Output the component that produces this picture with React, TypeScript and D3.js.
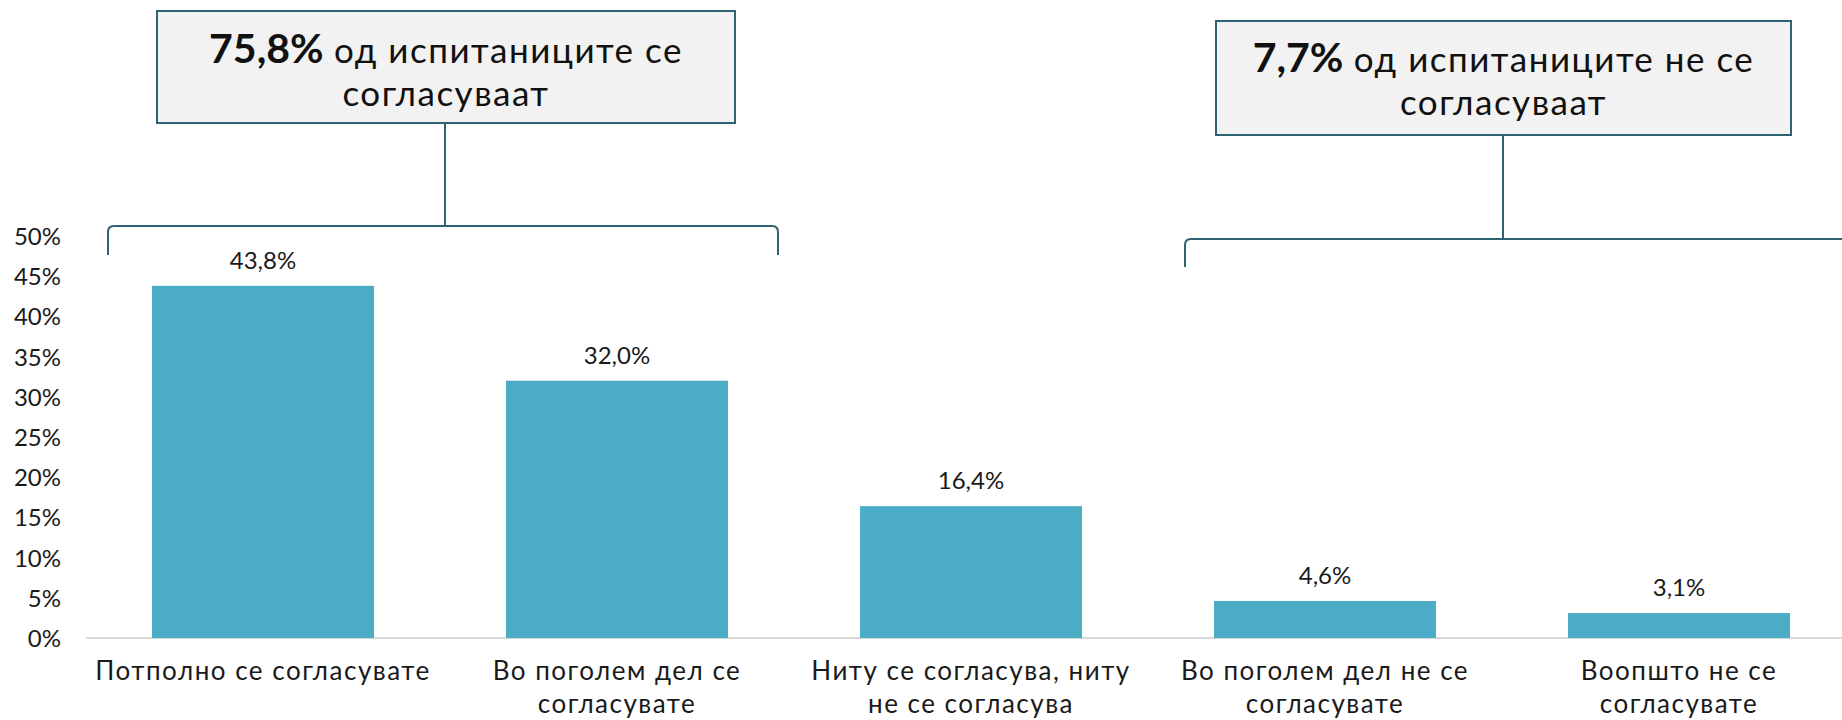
import React from "react";
import * as d3 from "d3";

const categories = [
  "Потполно се согласувате",
  "Во поголем дел се согласувате",
  "Ниту се согласува, ниту не се согласува",
  "Во поголем дел не се согласувате",
  "Воопшто не се согласувате",
];
const categoryLines = [
  ["Потполно се согласувате"],
  ["Во поголем дел се", "согласувате"],
  ["Ниту се согласува, ниту", "не се согласува"],
  ["Во поголем дел не се", "согласувате"],
  ["Воопшто не се", "согласувате"],
];
const values = [43.8, 32.0, 16.4, 4.6, 3.1];
const valueLabels = ["43,8%", "32,0%", "16,4%", "4,6%", "3,1%"];
const yTicks = [0, 5, 10, 15, 20, 25, 30, 35, 40, 45, 50];

const calloutBold = ["75,8%", "7,7%"];
const calloutText = [" од испитаниците се", " од испитаниците не се"];
const calloutLine2 = ["согласуваат", "согласуваат"];

const W = 1842;
const H = 720;
const FONT = "Lato, 'Open Sans', sans-serif";
const BAR = "#4BACC6";
const LINE = "#2F6272";

export default function App() {
  const x = d3
    .scaleBand<string>()
    .domain(categories)
    .range([86, 1856])
    .paddingInner(0.373)
    .paddingOuter(0.1865);
  const y = d3.scaleLinear().domain([0, 50]).range([638, 236]);

  const boxes = [
    { x0: 157, x1: 735, y0: 11, y1: 123, bx0: 108, bx1: 778, by: 226, bEnd: 255, cx: 445, l1: 63, l2: 106 },
    { x0: 1216, x1: 1791, y0: 21, y1: 135, bx0: 1185, bx1: 1900, by: 239, bEnd: 267, cx: 1503, l1: 72, l2: 115 },
  ];

  const bracket = (x1: number, x2: number, yy: number, yEnd: number) => {
    const r = 6;
    return `M${x1},${yEnd} L${x1},${yy + r} Q${x1},${yy} ${x1 + r},${yy} L${x2 - r},${yy} Q${x2},${yy} ${x2},${yy + r} L${x2},${yEnd}`;
  };

  return (
    <svg
      width={W}
      height={H}
      style={{ position: "absolute", left: 0, top: 0, display: "block", background: "#fff" }}
      fontFamily={FONT}
    >
      <line x1={86} x2={1856} y1={y(0)} y2={y(0)} stroke="#D9D9D9" strokeWidth={2} />
      {yTicks.map((t) => (
        <text key={t} x={61} y={y(t) + 9} textAnchor="end" fontSize={24} fill="#1a1a1a">
          {t}%
        </text>
      ))}
      {values.map((v, i) => (
        <rect
          key={i}
          x={x(categories[i])}
          y={y(v)}
          width={x.bandwidth()}
          height={y(0) - y(v)}
          fill={BAR}
        />
      ))}
      {values.map((v, i) => (
        <text
          key={i}
          x={(x(categories[i]) as number) + x.bandwidth() / 2}
          y={y(v) - 17}
          textAnchor="middle"
          fontSize={24}
          fill="#1a1a1a"
        >
          {valueLabels[i]}
        </text>
      ))}
      {categoryLines.map((lines, i) => (
        <text
          key={i}
          x={(x(categories[i]) as number) + x.bandwidth() / 2}
          textAnchor="middle"
          fontSize={26}
          letterSpacing={1.5}
          fill="#1a1a1a"
        >
          {lines.map((ln, j) => (
            <tspan key={j} x={(x(categories[i]) as number) + x.bandwidth() / 2} y={680 + j * 33}>
              {ln}
            </tspan>
          ))}
        </text>
      ))}
      {boxes.map((b, k) => (
        <g key={k}>
          <path d={bracket(b.bx0, b.bx1, b.by, b.bEnd)} fill="none" stroke={LINE} strokeWidth={2} />
          <line x1={b.cx} x2={b.cx} y1={b.y1} y2={b.by} stroke={LINE} strokeWidth={2} />
          <rect x={b.x0} y={b.y0} width={b.x1 - b.x0} height={b.y1 - b.y0} fill="#F2F2F2" stroke={LINE} strokeWidth={2} />
          <text x={(b.x0 + b.x1) / 2} y={b.l1} textAnchor="middle" fill="#111">
            <tspan fontWeight="bold" fontSize={41}>{calloutBold[k]}</tspan>
            <tspan fontSize={35} letterSpacing={1.5}>{calloutText[k]}</tspan>
          </text>
          <text x={(b.x0 + b.x1) / 2} y={b.l2} textAnchor="middle" fontSize={35} letterSpacing={1.5} fill="#111">
            {calloutLine2[k]}
          </text>
        </g>
      ))}
    </svg>
  );
}
